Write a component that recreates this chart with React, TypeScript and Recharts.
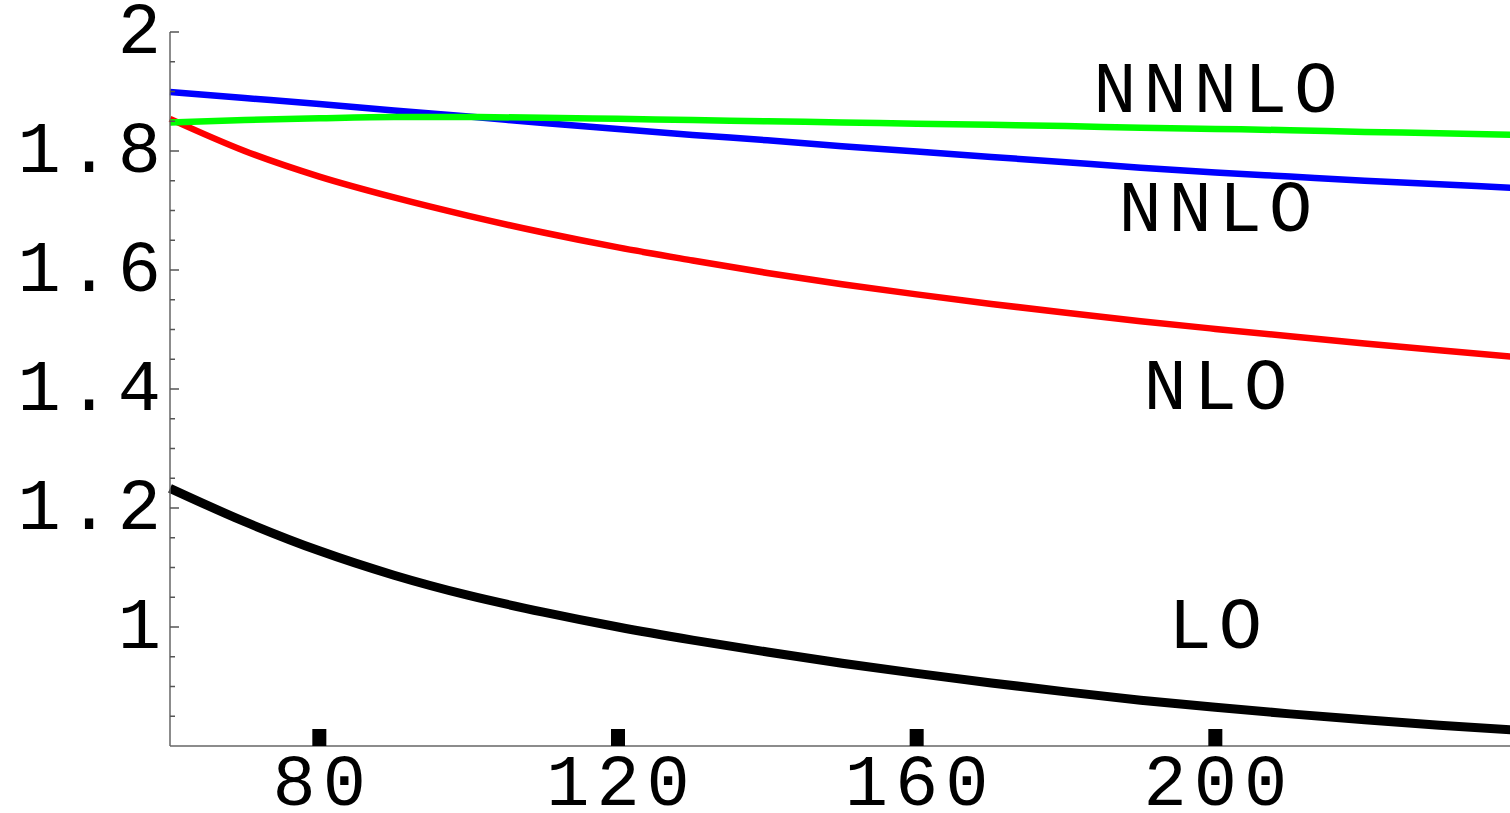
import React from 'react';
import { LineChart, Line, XAxis, YAxis, ReferenceDot } from 'recharts';

const massValues = [60, 70, 80, 90, 100, 110, 120, 130, 140, 150, 160, 170, 180, 190, 200, 210, 220, 230, 240];
const loValues = [1.233, 1.177, 1.128, 1.087, 1.053, 1.025, 1.0, 0.978, 0.958, 0.939, 0.922, 0.906, 0.891, 0.877, 0.865, 0.854, 0.844, 0.835, 0.827];
const nloValues = [1.854, 1.8, 1.757, 1.722, 1.691, 1.663, 1.638, 1.616, 1.595, 1.576, 1.559, 1.543, 1.528, 1.514, 1.501, 1.4885, 1.4765, 1.465, 1.454];
const nnloValues = [1.899, 1.889, 1.879, 1.868, 1.858, 1.847, 1.837, 1.827, 1.818, 1.808, 1.799, 1.79, 1.781, 1.772, 1.764, 1.757, 1.75, 1.744, 1.738];
const nnnloValues = [1.848, 1.852, 1.855, 1.857, 1.857, 1.856, 1.854, 1.852, 1.85, 1.848, 1.846, 1.844, 1.842, 1.839, 1.837, 1.835, 1.832, 1.83, 1.827];

const xTicks = [80, 120, 160, 200];
const yTicks = [0.85, 0.9, 0.95, 1, 1.05, 1.1, 1.15, 1.2, 1.25, 1.3, 1.35, 1.4, 1.45, 1.5, 1.55, 1.6, 1.65, 1.7, 1.75, 1.8, 1.85, 1.9, 1.95, 2];
const yMajor = [1, 1.2, 1.4, 1.6, 1.8, 2];

// curve labels: name, x, y
const curveLabels = [
  { name: 'NNNLO', x: 200, y: 1.899 },
  { name: 'NNLO', x: 200, y: 1.699 },
  { name: 'NLO', x: 200, y: 1.4 },
  { name: 'LO', x: 200, y: 0.998 },
];

const data = massValues.map((m, i) => ({
  m,
  lo: loValues[i],
  nlo: nloValues[i],
  nnlo: nnloValues[i],
  nnnlo: nnnloValues[i],
}));

const FONT = '"Liberation Mono", "Courier New", monospace';
const FONT_SIZE = 72;
const SPACING = 7;

const XTick = (props: any) => {
  const { x, y, payload } = props;
  return (
    <g>
      <rect x={x - 7} y={y - 17} width={14} height={17} fill="#000" />
      <text x={x + SPACING / 2} y={y + 59} textAnchor="middle" fontFamily={FONT} fontSize={FONT_SIZE} letterSpacing={SPACING} fill="#000">
        {payload.value}
      </text>
    </g>
  );
};

const YTick = (props: any) => {
  const { x, y, payload } = props;
  const v = payload.value;
  const major = yMajor.some((t) => Math.abs(t - v) < 1e-6);
  return (
    <g>
      <line x1={x} x2={x + (major ? 9 : 5)} y1={y} y2={y} stroke="#555" strokeWidth={1.5} />
      {major && (
        <text x={x - 2} y={y + 21} textAnchor="end" fontFamily={FONT} fontSize={FONT_SIZE} letterSpacing={SPACING} fill="#000">
          {String(Number(v.toFixed(1)))}
        </text>
      )}
    </g>
  );
};

const CurveLabel = ({ viewBox, value }: any) => (
  <text x={viewBox.x + SPACING / 2} y={viewBox.y + 20} textAnchor="middle" fontFamily={FONT} fontSize={FONT_SIZE} letterSpacing={SPACING} fill="#000">
    {value}
  </text>
);

export default function App() {
  return (
    <div style={{ position: 'absolute', left: 0, top: 0, width: 1510, height: 813, overflow: 'hidden', background: '#fff' }}>
      <LineChart width={1514} height={813} data={data} margin={{ top: 32, right: 0, bottom: 0, left: 0 }}>
        <XAxis
          dataKey="m"
          type="number"
          domain={[60, 240]}
          ticks={xTicks}
          interval={0}
          height={67}
          tickSize={0}
          tickMargin={0}
          tickLine={false}
          axisLine={{ stroke: '#666', strokeWidth: 1.5 }}
          tick={<XTick />}
        />
        <YAxis
          type="number"
          domain={[0.8, 2]}
          ticks={yTicks}
          interval={0}
          width={170}
          tickSize={0}
          tickMargin={0}
          tickLine={false}
          axisLine={{ stroke: '#666', strokeWidth: 1.5 }}
          tick={<YTick />}
        />
        <Line dataKey="lo" type="monotone" stroke="#000000" strokeWidth={9} dot={false} isAnimationActive={false} />
        <Line dataKey="nlo" type="monotone" stroke="#ff0000" strokeWidth={6.5} dot={false} isAnimationActive={false} />
        <Line dataKey="nnlo" type="monotone" stroke="#0000ff" strokeWidth={6.5} dot={false} isAnimationActive={false} />
        <Line dataKey="nnnlo" type="monotone" stroke="#00ff00" strokeWidth={6.5} dot={false} isAnimationActive={false} />
        {curveLabels.map((l) => (
          <ReferenceDot key={l.name} x={l.x} y={l.y} r={0} fill="none" stroke="none" label={<CurveLabel value={l.name} />} />
        ))}
      </LineChart>
    </div>
  );
}
